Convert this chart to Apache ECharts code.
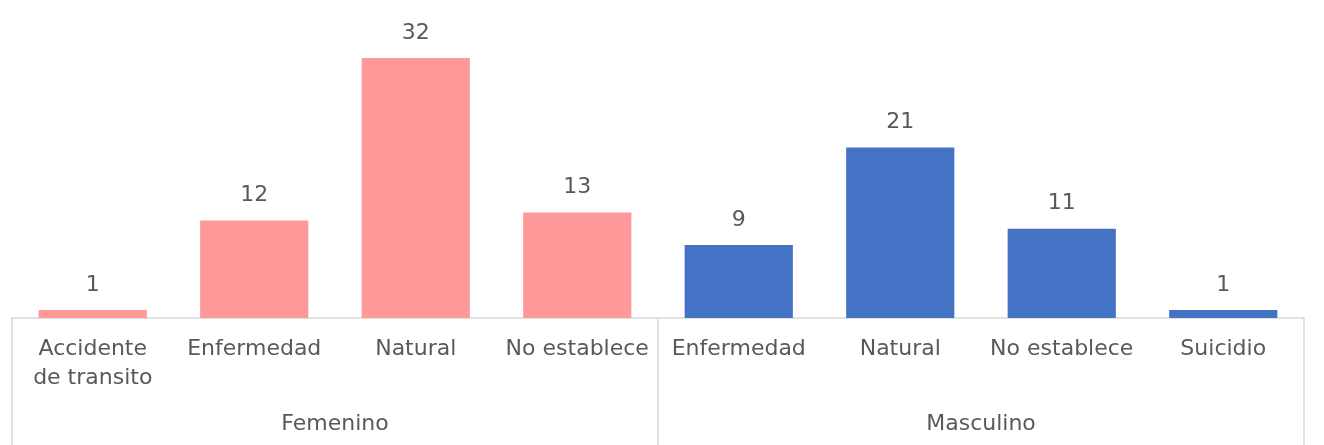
<!DOCTYPE html>
<html><head><meta charset="utf-8">
<script src="https://cdn.jsdelivr.net/npm/echarts@6/dist/echarts.min.js"></script>
<style>html,body{margin:0;padding:0;background:#fff}#c{width:1324px;height:445px}</style>
</head><body><div id="c"></div>
<script>
const categories = ['Accidente\nde transito','Enfermedad','Natural','No establece','Enfermedad','Natural','No establece','Suicidio'];
const values = [1,12,32,13,9,21,11,1];
const groups = ['Femenino','Masculino'];
const groupSizes = [4,4];
const groupColors = ['#FF9999','#4472C4'];

const FONT = 'DejaVu Sans';
const itemColors = [];
groupSizes.forEach((n,g)=>{for(let i=0;i<n;i++) itemColors.push(groupColors[g]);});

const chart = echarts.init(document.getElementById('c'));
chart.setOption({
  animation:false,
  grid:{left:12,right:20,top:58,bottom:127},
  xAxis:[{
    type:'category', data:categories, position:'bottom',
    axisLine:{lineStyle:{color:'#D9D9D9',width:1.5}},
    axisTick:{show:false},
    axisLabel:{interval:0,color:'#595959',fontFamily:FONT,fontSize:22,margin:17,lineHeight:29}
  },{
    type:'category', data:groups, position:'bottom',
    axisLine:{show:false},
    axisTick:{show:true,length:127,lineStyle:{color:'#D9D9D9',width:1.5}},
    axisLabel:{color:'#595959',fontFamily:FONT,fontSize:22,margin:95}
  }],
  yAxis:{type:'value',min:0,max:32,show:false,splitLine:{show:false}},
  series:[{
    type:'bar', xAxisIndex:0, data:values, barCategoryGap:'33%',
    itemStyle:{color:p=>itemColors[p.dataIndex]},
    label:{show:true,position:'top',distance:14,color:'#595959',fontFamily:FONT,fontSize:22}
  }]
});
</script></body></html>
